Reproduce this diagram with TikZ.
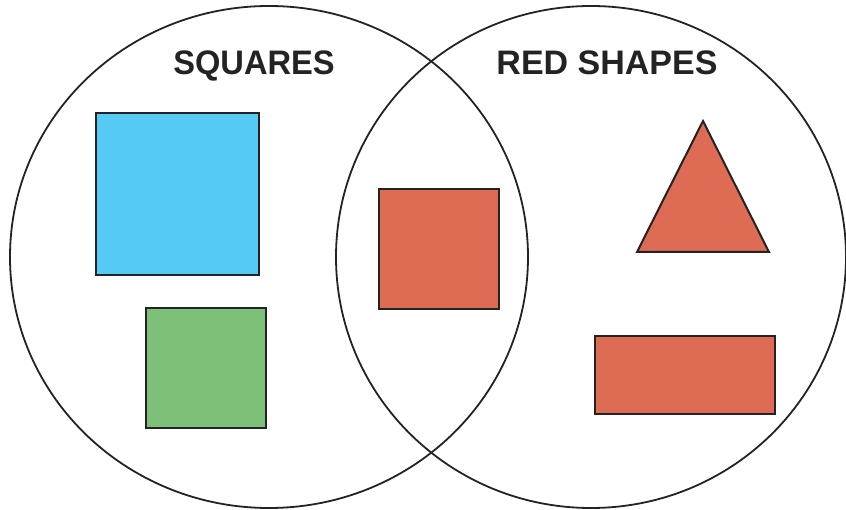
\documentclass[tikz,border=0pt]{standalone}
\usepackage{fontspec}
\setmainfont{Liberation Sans}
\usepackage{tikz}
\usetikzlibrary{positioning}

\definecolor{skyblue}{HTML}{55CAF5}
\definecolor{leafgreen}{HTML}{7DC077}
\definecolor{brickred}{HTML}{DE6B53}
\definecolor{inkgray}{HTML}{232323}

\begin{document}
\begin{tikzpicture}[x=1pt,y=-1pt,
        setline/.style={draw=inkgray, line width=1.8pt},
        shapebox/.style={draw=inkgray, line width=2pt, line join=miter},
        setname/.style={anchor=base, inner sep=0pt, font=\bfseries\fontsize{34}{40}\selectfont, text=inkgray}]
        \useasboundingbox (0,0) rectangle (846,510);

        % the two sets
        \draw[setline] (269,257) ellipse (259 and 251);
        \draw[setline] (591,257) ellipse (255 and 251);
        \node[setname] (squares) at (254,75) {\scalebox{0.96}[1]{SQUARES}};
        \node[setname] (redshapes) at (607,75) {RED SHAPES};

        % squares only
        \draw[shapebox, fill=skyblue] (96,113) rectangle (259,275);
        \draw[shapebox, fill=leafgreen] (146,308) rectangle (266,428);

        % both
        \draw[shapebox, fill=brickred] (379,189) rectangle (499,309);

        % red shapes only
        \draw[shapebox, fill=brickred] (703,121) -- (769,252) -- (637,252) -- cycle;
        \draw[shapebox, fill=brickred] (595,336) rectangle (775,414);
    \end{tikzpicture}
\end{document}
